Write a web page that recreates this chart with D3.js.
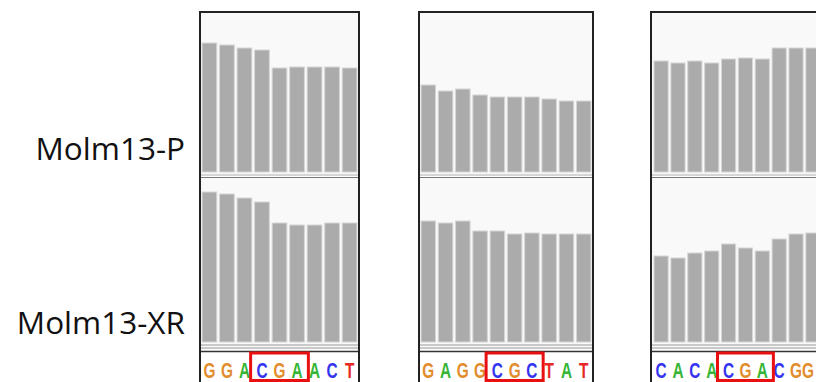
<!DOCTYPE html>
<html><head><meta charset="utf-8">
<script src="https://cdn.jsdelivr.net/npm/d3@7"></script>
<style>html,body{margin:0;padding:0;background:#fff;overflow:hidden}</style>
</head><body>
<svg id="chart" width="816" height="382"></svg>
<script>
// ---- data ----
const trackLabels = ["Molm13-P", "Molm13-XR"];
const seq1 = ["G","G","A","C","G","A","A","C","T"];
const seq2 = ["G","A","G","G","C","G","C","T","A","T"];
const seq3 = ["C","A","C","A","C","G","A","C","G","G"];
const parental1 = [129,127,124,122,104,105,105,105,104];
const parental2 = [87,81,83,77,75,75,75,73,71,71];
const parental3 = [111,109,111,109,113,114,113,124,124,124];
const resistant1 = [150,148,144,140,119,117,117,119,119];
const resistant2 = [121,119,121,111,111,108,109,108,108,108];
const resistant3 = [86,84,89,91,98,94,91,103,108,109];
const highlightStart = [3,4,4];
const highlightLength = 3;
const baseColors = {G:"#e28c2c", A:"#35b535", C:"#3333f0", T:"#e82626"};

// ---- layout ----
const panels = [
  {x0:200, x1:359, r0:201, r1:358, seq:seq1, top:parental1, bot:resistant1, hs:highlightStart[0]},
  {x0:419, x1:593, r0:420, r1:592, seq:seq2, top:parental2, bot:resistant2, hs:highlightStart[1]},
  {x0:651, x1:824, r0:653, r1:821, seq:seq3, top:parental3, bot:resistant3, hs:highlightStart[2]}
];
const topTrack = {y0:13, base:172, max:160};
const botTrack = {y0:178, base:342, max:164};

const svg = d3.select("#chart");
svg.append("rect").attr("width",816).attr("height",382).attr("fill","#fff");

const yTop = d3.scaleLinear().domain([0, topTrack.max]).range([topTrack.base, topTrack.base - topTrack.max]);
const yBot = d3.scaleLinear().domain([0, botTrack.max]).range([botTrack.base, botTrack.base - botTrack.max]);

panels.forEach(p => {
  const g = svg.append("g");
  const x = d3.scaleBand().domain(d3.range(p.seq.length)).range([p.r0, p.r1]).paddingInner(0.16).paddingOuter(0.06);
  const w = p.x1 - p.x0;
  g.append("rect").attr("x",p.x0).attr("y",topTrack.y0).attr("width",w).attr("height",topTrack.base - topTrack.y0 + 4).attr("fill","#f9f9f9");
  g.append("rect").attr("x",p.x0).attr("y",botTrack.y0).attr("width",w).attr("height",botTrack.base - botTrack.y0 + 8).attr("fill","#f9f9f9");
  [[p.top, yTop], [p.bot, yBot]].forEach(([vals, y]) => {
    g.selectAll(null).data(vals).enter().append("rect")
      .attr("x",(d,i)=>x(i)).attr("width",x.bandwidth())
      .attr("y",d=>y(d)).attr("height",d=>y(0)-y(d))
      .attr("fill","#ababab").attr("stroke","#d6d6d6").attr("stroke-width",1);
  });
  g.append("line").attr("x1",p.x0).attr("x2",p.x1).attr("y1",175).attr("y2",175).attr("stroke","#b0b0b0").attr("stroke-width",1);
  g.append("line").attr("x1",p.x0).attr("x2",p.x1).attr("y1",177.5).attr("y2",177.5).attr("stroke","#777").attr("stroke-width",1);
  g.append("line").attr("x1",p.x0).attr("x2",p.x1).attr("y1",345).attr("y2",345).attr("stroke","#999").attr("stroke-width",1);
  g.append("line").attr("x1",p.x0).attr("x2",p.x1).attr("y1",348).attr("y2",348).attr("stroke","#999").attr("stroke-width",1);
  g.append("line").attr("x1",p.x0).attr("x2",p.x1).attr("y1",351.5).attr("y2",351.5).attr("stroke","#333").attr("stroke-width",1.5);
  g.append("rect").attr("x",p.x0).attr("y",12).attr("width",w).attr("height",380)
    .attr("fill","none").attr("stroke","#222").attr("stroke-width",2);
  g.selectAll(null).data(p.seq).enter().append("text")
    .attr("transform",(d,i)=>`translate(${Math.min(x(i)+x.bandwidth()/2, 808)},378) scale(0.7,1)`)
    .attr("text-anchor","middle").attr("font-family","Liberation Sans, Arial, sans-serif")
    .attr("font-size",22).attr("font-weight","bold").attr("fill",d=>baseColors[d]).text(d=>d);
  const hx0 = x(p.hs) - 4, hx1 = x(p.hs + highlightLength - 1) + x.bandwidth() + 4;
  g.append("rect").attr("x",hx0).attr("y",353).attr("width",hx1-hx0).attr("height",27.5)
    .attr("fill","none").attr("stroke","#e81010").attr("stroke-width",3);
});

svg.selectAll(".lbl").data(trackLabels).enter().append("text")
  .attr("class","lbl")
  .attr("x",185).attr("y",(d,i)=> i===0 ? 160 : 334)
  .attr("text-anchor","end").attr("font-family","Open Sans, sans-serif")
  .attr("font-size",31.5).attr("fill","#111").text(d=>d);
</script>
</body></html>
